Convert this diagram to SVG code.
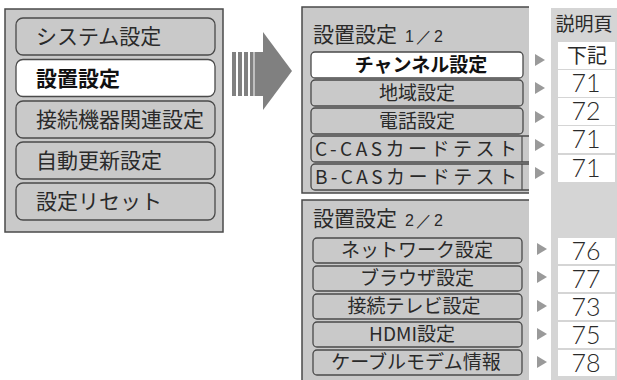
<svg xmlns="http://www.w3.org/2000/svg" width="617" height="380" viewBox="0 0 617 380">
<style>
.panel{fill:#c9c9c9;stroke:#4a4a4a;stroke-width:1.5}
.btn{fill:#c9c9c9;stroke:#4a4a4a;stroke-width:1.3}
.sel{fill:#ffffff;stroke:#4a4a4a;stroke-width:1.3}
.t{font-family:"Noto Sans CJK JP","Liberation Sans",sans-serif;fill:#2a2a2a}
.big{font-size:21px}
.mid{font-size:19px}
.ttl{font-size:21px}
.frac{font-family:"Liberation Sans",sans-serif;font-size:16px;letter-spacing:2px}
.b{font-weight:bold;fill:#111}
.num{font-family:"Lato","Roboto","Liberation Sans",sans-serif;font-weight:300;font-size:25px;fill:#2a2a2a;text-anchor:middle}
.pg{fill:#ffffff}
.tri{fill:#9a9a9a}
.arrow{fill:#808080}
</style>
<defs>
<clipPath id="c1"><rect x="302" y="7" width="227" height="186"/></clipPath>
</defs>
<rect x="551" y="8" width="66" height="372" fill="#d5d5d5"/>

<g id="left-menu">
<rect class="panel" x="5" y="9" width="218" height="223"/>
<g id="btn-system"><rect class="btn" x="16" y="18" width="199" height="37" rx="7"/><text class="t big" x="36" y="44">システム設定</text></g>
<g id="btn-setchi"><rect class="sel" x="16" y="59.5" width="199" height="37" rx="7"/><text class="t big b" x="36" y="85.5">設置設定</text></g>
<g id="btn-setsuzoku"><rect class="btn" x="16" y="101" width="199" height="37" rx="7"/><text class="t big" x="36" y="127">接続機器関連設定</text></g>
<g id="btn-jidou"><rect class="btn" x="16" y="142" width="199" height="37" rx="7"/><text class="t big" x="36" y="168">自動更新設定</text></g>
<g id="btn-reset"><rect class="btn" x="16" y="183" width="199" height="37" rx="7"/><text class="t big" x="36" y="209">設定リセット</text></g>
</g>

<g id="panel1">
<rect x="302" y="7" width="227" height="186" fill="#c9c9c9"/>
<path d="M529,7 H302 V193 H529" fill="none" stroke="#4a4a4a" stroke-width="1.5"/>
<text class="t ttl" x="313" y="42">設置設定<tspan class="frac" dx="8">1／2</tspan></text>
<g clip-path="url(#c1)">
<g id="p1-channel"><rect class="sel" x="311" y="52" width="212" height="26" rx="4"/><text class="t mid b" x="421" y="71.5" text-anchor="middle">チャンネル設定</text></g>
<g id="p1-chiiki"><rect class="btn" x="311" y="80" width="212" height="26" rx="4"/><text class="t mid" x="417" y="99.5" text-anchor="middle">地域設定</text></g>
<g id="p1-denwa"><rect class="btn" x="311" y="108" width="212" height="26" rx="4"/><text class="t mid" x="417" y="127.5" text-anchor="middle">電話設定</text></g>
<g id="p1-ccas"><rect class="btn" x="311" y="136" width="240" height="26" rx="4"/><line x1="522" y1="136" x2="522" y2="162" stroke="#4a4a4a" stroke-width="1.2"/><text class="t mid" x="315" y="155.5" textLength="202" lengthAdjust="spacing">C-CASカードテスト</text></g>
<g id="p1-bcas"><rect class="btn" x="311" y="164" width="240" height="26" rx="4"/><line x1="522" y1="164" x2="522" y2="190" stroke="#4a4a4a" stroke-width="1.2"/><text class="t mid" x="315" y="183.5" textLength="202" lengthAdjust="spacing">B-CASカードテスト</text></g>
</g>
</g>

<g id="panel2">
<rect x="302" y="200" width="227" height="180" fill="#c9c9c9"/>
<path d="M529,200 H302 V380" fill="none" stroke="#4a4a4a" stroke-width="1.5"/>
<text class="t ttl" x="313" y="226">設置設定<tspan class="frac" dx="8">2／2</tspan></text>
<g id="p2-network"><rect class="btn" x="313" y="238" width="209" height="25" rx="4"/><text class="t mid" x="417" y="257" text-anchor="middle">ネットワーク設定</text></g>
<g id="p2-browser"><rect class="btn" x="313" y="266" width="209" height="25" rx="4"/><text class="t mid" x="417" y="285" text-anchor="middle">ブラウザ設定</text></g>
<g id="p2-tv"><rect class="btn" x="313" y="294" width="209" height="25" rx="4"/><text class="t mid" x="414" y="313" text-anchor="middle">接続テレビ設定</text></g>
<g id="p2-hdmi"><rect class="btn" x="313" y="322" width="209" height="25" rx="4"/><text class="t mid" x="412" y="341" text-anchor="middle">HDMI設定</text></g>
<g id="p2-cable"><rect class="btn" x="313" y="350" width="209" height="25" rx="4"/><text class="t mid" x="416" y="369" text-anchor="middle">ケーブルモデム情報</text></g>
</g>

<g id="pages">
<text class="t" x="584" y="31" font-size="19" text-anchor="middle">説明頁</text>
<g id="pg1"><rect class="pg" x="558" y="42" width="57" height="27"/><text class="t" x="587" y="62.5" font-size="20" text-anchor="middle">下記</text></g>
<g id="pg2"><rect class="pg" x="558" y="70" width="57" height="27"/><text class="num" x="586" y="92">71</text></g>
<g id="pg3"><rect class="pg" x="558" y="98" width="57" height="27"/><text class="num" x="586" y="120">72</text></g>
<g id="pg4"><rect class="pg" x="558" y="126" width="57" height="27"/><text class="num" x="586" y="148">71</text></g>
<g id="pg5"><rect class="pg" x="558" y="155" width="57" height="27"/><text class="num" x="586" y="177">71</text></g>
<g id="pg6"><rect class="pg" x="558" y="238" width="57" height="26"/><text class="num" x="586" y="260">76</text></g>
<g id="pg7"><rect class="pg" x="558" y="266" width="57" height="26"/><text class="num" x="586" y="288">77</text></g>
<g id="pg8"><rect class="pg" x="558" y="294" width="57" height="26"/><text class="num" x="586" y="316">73</text></g>
<g id="pg9"><rect class="pg" x="558" y="322" width="57" height="26"/><text class="num" x="586" y="344">75</text></g>
<g id="pg10"><rect class="pg" x="558" y="350" width="57" height="26"/><text class="num" x="586" y="372">78</text></g>
</g>

<g id="connectors">
<g id="big-arrow" class="arrow">
<rect x="232" y="52" width="4" height="44"/>
<rect x="238" y="52" width="4" height="44"/>
<rect x="244" y="52" width="4" height="44"/>
<rect x="250" y="52" width="3.5" height="44"/>
<rect x="254.5" y="52" width="9" height="44"/>
<polygon points="263,32 292,71 263,110"/>
</g>
<polygon class="tri" points="535,54 545,60 535,66"/>
<polygon class="tri" points="535,82 545,88 535,94"/>
<polygon class="tri" points="535,111 545,117 535,123"/>
<polygon class="tri" points="535,139 545,145 535,151"/>
<polygon class="tri" points="535,167 545,173 535,179"/>
<polygon class="tri" points="537,243 547,249 537,255"/>
<polygon class="tri" points="537,271 547,277 537,283"/>
<polygon class="tri" points="537,300 547,306 537,312"/>
<polygon class="tri" points="537,328 547,334 537,340"/>
<polygon class="tri" points="537,356 547,362 537,368"/>
</g>
</svg>
